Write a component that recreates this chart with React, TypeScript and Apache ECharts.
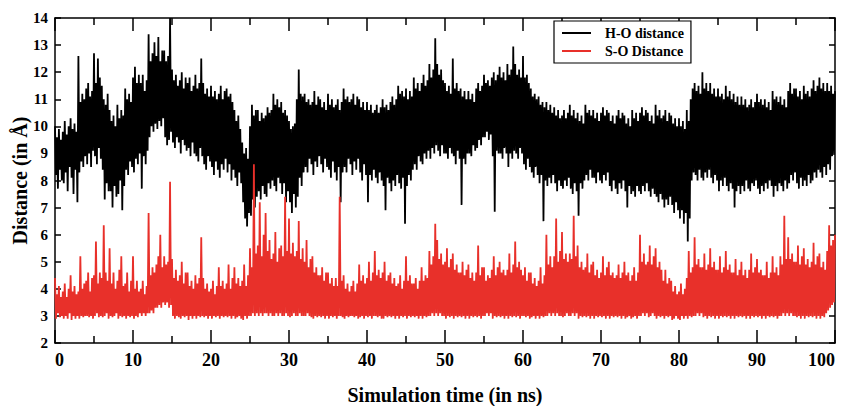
import React, { useEffect, useRef } from "react";
import * as echarts from "echarts";

// Sampling step of the trajectory (ns) and the axis ranges
const TIME_STEP = 0.125;
const X_MIN = 0;
const X_MAX = 100;
const X_INTERVAL = 10;
const Y_MIN = 2;
const Y_MAX = 14;
const Y_INTERVAL = 1;

const SERIES_NAMES = ["H-O distance", "S-O Distance"];

// H-O distance (Å), one row per ns, 8 samples per row
const HO_DISTANCE = [
  10.0, 8.2, 9.6, 7.7, 9.9, 8.4, 9.5, 8.0, // 0
  9.8, 7.9, 10.2, 8.3, 9.7, 7.6, 10.0, 8.5, // 1
  10.3, 8.1, 9.9, 7.5, 10.1, 8.4, 9.8, 7.2, // 2
  12.6, 8.3, 10.9, 8.7, 11.2, 8.5, 11.0, 8.9, // 3
  11.4, 8.6, 11.6, 9.0, 11.1, 8.5, 11.3, 9.1, // 4
  12.7, 8.9, 11.6, 8.6, 12.5, 9.2, 11.8, 8.8, // 5
  11.5, 8.4, 11.0, 7.3, 10.8, 7.9, 11.2, 7.6, // 6
  10.6, 7.6, 10.2, 7.0, 10.4, 7.8, 10.0, 7.4, // 7
  10.8, 7.5, 10.3, 8.0, 10.6, 6.9, 10.4, 7.8, // 8
  11.4, 8.4, 11.0, 8.2, 11.2, 8.7, 10.9, 8.5, // 9
  11.8, 8.3, 12.2, 8.8, 11.6, 8.6, 11.9, 9.0, // 10
  11.6, 7.7, 11.9, 8.9, 11.3, 8.6, 11.7, 9.1, // 11
  13.4, 9.6, 12.4, 10.0, 12.7, 9.8, 13.1, 10.1, // 12
  12.6, 9.9, 13.3, 10.2, 12.4, 10.0, 12.8, 10.3, // 13
  12.8, 9.6, 12.4, 9.3, 12.6, 9.5, 14.0, 9.8, // 14
  12.1, 9.4, 11.7, 9.2, 11.9, 9.6, 11.5, 9.4, // 15
  11.7, 9.0, 12.0, 9.5, 11.4, 9.3, 11.8, 9.1, // 16
  11.6, 9.2, 11.8, 8.9, 11.3, 9.4, 11.5, 9.0, // 17
  11.9, 8.9, 11.4, 8.7, 11.6, 9.2, 12.5, 8.9, // 18
  11.6, 8.6, 11.2, 8.4, 11.4, 8.9, 11.1, 8.7, // 19
  11.5, 8.5, 11.1, 8.2, 11.3, 8.7, 11.0, 8.4, // 20
  11.2, 8.1, 11.5, 8.6, 11.0, 8.4, 11.3, 8.8, // 21
  11.4, 8.3, 11.1, 8.6, 11.2, 8.0, 10.9, 8.4, // 22
  10.6, 8.1, 10.2, 7.8, 10.4, 8.3, 9.9, 7.9, // 23
  9.4, 7.2, 9.0, 6.6, 9.2, 6.3, 8.8, 6.8, // 24
  10.0, 6.7, 10.8, 7.3, 10.4, 7.0, 10.6, 7.4, // 25
  10.6, 7.6, 10.2, 7.3, 10.5, 7.8, 10.3, 7.5, // 26
  10.4, 7.4, 10.7, 7.9, 10.5, 7.7, 10.6, 8.0, // 27
  11.2, 7.8, 10.8, 7.6, 11.0, 8.1, 10.7, 7.9, // 28
  10.9, 7.5, 10.5, 7.9, 10.6, 7.2, 10.4, 7.6, // 29
  10.2, 7.2, 9.9, 6.8, 10.0, 7.5, 10.1, 7.0, // 30
  11.0, 7.4, 12.1, 8.1, 11.2, 7.8, 11.1, 8.3, // 31
  11.2, 8.5, 10.9, 8.3, 11.0, 8.8, 10.8, 8.6, // 32
  10.9, 8.2, 11.3, 8.7, 10.8, 8.5, 11.1, 8.9, // 33
  11.0, 8.6, 10.7, 8.3, 10.9, 8.8, 10.6, 8.5, // 34
  11.2, 8.4, 10.8, 8.1, 11.0, 8.7, 10.7, 8.3, // 35
  10.8, 8.0, 11.0, 8.5, 10.6, 7.2, 10.9, 8.3, // 36
  11.4, 8.5, 11.0, 8.3, 11.1, 8.8, 10.9, 8.6, // 37
  11.0, 8.2, 11.2, 8.7, 10.8, 8.4, 11.1, 8.8, // 38
  11.0, 8.3, 10.7, 8.0, 10.9, 8.6, 10.6, 8.2, // 39
  10.9, 7.2, 10.6, 8.2, 10.8, 8.0, 10.5, 8.4, // 40
  10.6, 8.1, 10.8, 7.9, 10.5, 8.3, 10.7, 8.0, // 41
  11.0, 7.8, 10.7, 6.9, 10.8, 8.1, 10.6, 7.9, // 42
  10.9, 7.6, 11.1, 8.0, 10.8, 7.8, 11.0, 8.2, // 43
  11.5, 7.9, 11.2, 7.7, 11.3, 8.1, 11.1, 6.4, // 44
  11.4, 7.8, 11.0, 8.2, 11.3, 8.0, 11.1, 8.4, // 45
  11.8, 8.6, 11.4, 8.4, 11.6, 8.9, 11.3, 8.7, // 46
  11.6, 8.6, 11.9, 9.0, 11.5, 8.8, 11.7, 9.1, // 47
  12.3, 8.8, 11.8, 9.2, 12.1, 9.0, 13.25, 9.3, // 48
  12.3, 9.1, 11.9, 8.9, 12.1, 9.3, 11.7, 9.0, // 49
  11.6, 9.0, 11.3, 8.8, 11.5, 9.2, 11.2, 9.0, // 50
  12.5, 8.9, 11.4, 8.6, 11.6, 9.1, 11.3, 8.8, // 51
  11.4, 7.1, 11.1, 8.8, 11.3, 8.6, 11.0, 9.0, // 52
  11.3, 9.0, 11.0, 8.9, 11.2, 9.3, 10.9, 9.1, // 53
  11.4, 9.2, 11.6, 9.5, 11.3, 9.3, 11.5, 9.6, // 54
  11.9, 9.6, 11.6, 9.8, 11.7, 9.5, 11.5, 9.7, // 55
  11.8, 8.9, 12.0, 6.85, 11.7, 9.1, 11.9, 9.0, // 56
  12.2, 9.0, 11.8, 8.8, 12.0, 9.2, 11.7, 9.0, // 57
  12.3, 8.5, 11.9, 9.0, 12.1, 8.8, 12.95, 9.1, // 58
  12.3, 9.0, 11.9, 8.8, 12.1, 9.2, 11.8, 9.0, // 59
  12.6, 8.6, 11.8, 8.4, 11.9, 8.8, 11.6, 8.5, // 60
  11.4, 8.3, 11.1, 8.1, 11.2, 8.5, 11.0, 8.2, // 61
  11.1, 7.9, 10.8, 8.2, 10.9, 6.5, 10.7, 8.0, // 62
  10.9, 7.8, 10.6, 8.1, 10.8, 7.9, 10.5, 8.2, // 63
  10.7, 7.9, 10.4, 7.6, 10.6, 8.0, 10.3, 7.8, // 64
  10.4, 7.7, 10.6, 8.0, 10.3, 7.8, 10.5, 8.1, // 65
  10.8, 7.7, 10.4, 7.5, 10.6, 7.9, 10.3, 7.6, // 66
  10.5, 6.7, 10.2, 7.9, 10.4, 7.7, 10.1, 8.0, // 67
  10.8, 8.2, 10.5, 8.0, 10.6, 8.4, 10.4, 8.1, // 68
  10.6, 8.1, 10.3, 7.9, 10.5, 8.3, 10.2, 8.0, // 69
  10.5, 7.9, 10.7, 8.2, 10.4, 8.0, 10.6, 8.3, // 70
  10.5, 7.8, 10.2, 7.6, 10.4, 8.0, 10.1, 7.7, // 71
  10.4, 7.5, 10.6, 7.9, 10.3, 7.7, 10.5, 8.0, // 72
  10.4, 7.6, 10.1, 7.0, 10.3, 7.8, 10.0, 7.5, // 73
  10.6, 7.6, 10.3, 7.4, 10.5, 7.8, 10.2, 7.6, // 74
  10.5, 7.5, 10.7, 7.8, 10.4, 7.6, 10.6, 7.9, // 75
  10.5, 7.6, 10.2, 7.4, 10.4, 7.7, 10.1, 7.5, // 76
  10.8, 7.4, 10.4, 7.2, 10.6, 7.5, 10.3, 7.3, // 77
  10.4, 7.0, 10.6, 7.3, 10.2, 7.1, 10.5, 7.4, // 78
  10.4, 7.1, 10.1, 6.8, 10.3, 7.2, 10.0, 6.9, // 79
  10.3, 6.6, 10.0, 6.9, 10.2, 6.4, 9.9, 6.8, // 80
  10.6, 5.75, 10.2, 6.6, 11.0, 8.0, 11.4, 8.3, // 81
  11.6, 8.2, 11.3, 8.0, 11.5, 8.4, 11.2, 8.1, // 82
  12.0, 8.0, 11.4, 8.3, 11.6, 8.1, 11.3, 8.4, // 83
  11.6, 8.1, 11.2, 7.9, 11.4, 8.2, 11.1, 8.0, // 84
  11.4, 7.6, 11.1, 8.0, 11.2, 7.8, 11.0, 8.1, // 85
  11.5, 7.8, 11.1, 7.6, 11.3, 7.9, 11.0, 7.7, // 86
  11.2, 7.0, 10.9, 7.6, 11.1, 7.8, 10.8, 7.5, // 87
  11.1, 7.8, 10.8, 7.6, 11.0, 8.0, 10.7, 7.7, // 88
  10.8, 7.6, 11.0, 7.9, 10.7, 7.8, 10.9, 8.0, // 89
  11.2, 7.7, 10.9, 7.5, 11.0, 7.8, 10.8, 7.6, // 90
  11.0, 7.9, 10.7, 7.7, 10.9, 8.0, 10.6, 7.8, // 91
  11.3, 7.4, 11.0, 7.8, 11.1, 7.6, 10.9, 7.9, // 92
  11.1, 7.8, 10.8, 7.6, 11.0, 8.0, 10.7, 7.7, // 93
  11.3, 7.9, 11.6, 8.2, 11.2, 8.0, 11.4, 8.3, // 94
  11.4, 7.9, 11.1, 7.7, 11.3, 8.1, 11.0, 7.8, // 95
  11.5, 8.0, 11.2, 7.8, 11.3, 8.2, 11.1, 7.9, // 96
  11.4, 8.0, 11.7, 8.3, 11.3, 8.1, 11.5, 8.4, // 97
  11.8, 8.3, 11.4, 8.1, 11.6, 8.5, 11.3, 8.2, // 98
  11.6, 8.6, 11.3, 8.4, 11.5, 8.9, 11.2, 9.0, // 99
  11.3, // 100
];

// S-O distance (Å), one row per ns, 8 samples per row
const SO_DISTANCE = [
  4.4, 2.9, 3.8, 3.1, 4.1, 2.95, 3.7, 3.0, // 0
  3.9, 2.9, 4.2, 3.0, 3.7, 2.9, 4.0, 3.1, // 1
  4.5, 2.85, 3.9, 3.0, 4.1, 2.9, 3.8, 3.0, // 2
  3.9, 2.9, 5.2, 3.0, 4.0, 2.95, 4.2, 3.0, // 3
  4.3, 3.0, 4.6, 2.95, 3.9, 3.0, 4.4, 2.9, // 4
  4.5, 3.0, 5.75, 3.1, 4.2, 2.95, 4.6, 3.0, // 5
  4.4, 2.95, 6.35, 3.0, 4.6, 3.1, 4.3, 2.9, // 6
  5.5, 3.0, 4.2, 2.95, 4.6, 3.0, 4.0, 3.1, // 7
  4.3, 2.9, 4.7, 3.0, 5.2, 2.95, 4.1, 3.0, // 8
  4.2, 2.9, 4.6, 3.0, 3.9, 2.95, 4.3, 3.0, // 9
  5.2, 2.9, 4.0, 3.0, 4.3, 2.95, 3.9, 3.1, // 10
  4.0, 3.0, 4.3, 3.1, 3.8, 3.0, 4.1, 3.1, // 11
  6.8, 3.1, 4.5, 3.2, 4.8, 3.1, 4.6, 3.3, // 12
  4.9, 3.3, 5.2, 3.4, 6.0, 3.3, 4.8, 3.5, // 13
  5.2, 3.4, 4.9, 3.5, 5.0, 3.3, 7.95, 3.4, // 14
  5.1, 3.0, 4.4, 2.9, 4.7, 3.0, 4.3, 2.95, // 15
  4.5, 2.9, 5.0, 3.0, 4.2, 2.95, 4.6, 3.0, // 16
  4.6, 2.85, 4.1, 3.0, 4.3, 2.9, 4.0, 3.0, // 17
  4.5, 2.9, 4.2, 3.0, 4.4, 2.95, 5.9, 3.0, // 18
  4.4, 2.95, 4.0, 3.0, 4.2, 2.9, 3.9, 3.0, // 19
  4.0, 2.9, 4.3, 3.0, 3.8, 2.95, 4.1, 3.0, // 20
  4.8, 2.9, 4.1, 3.0, 4.3, 2.95, 4.0, 3.0, // 21
  4.2, 2.95, 4.9, 3.0, 4.0, 2.9, 4.4, 3.0, // 22
  4.8, 2.9, 4.2, 2.95, 4.4, 3.0, 4.1, 2.9, // 23
  4.3, 2.85, 4.9, 3.0, 4.1, 2.9, 4.5, 3.0, // 24
  5.5, 3.0, 4.8, 3.1, 8.6, 3.0, 5.3, 3.1, // 25
  5.6, 3.0, 7.2, 3.1, 5.2, 3.0, 6.0, 3.1, // 26
  6.8, 3.1, 5.4, 3.0, 5.8, 3.1, 5.1, 3.0, // 27
  5.3, 3.0, 6.1, 3.1, 5.0, 3.0, 5.5, 3.1, // 28
  5.6, 3.0, 5.2, 3.0, 7.4, 3.1, 5.4, 3.0, // 29
  6.6, 2.95, 5.3, 3.0, 5.7, 3.1, 5.2, 3.0, // 30
  5.4, 3.0, 6.5, 3.1, 5.1, 3.0, 5.5, 3.0, // 31
  5.0, 3.0, 5.8, 3.1, 4.8, 3.0, 5.1, 2.95, // 32
  5.2, 2.9, 4.6, 3.0, 4.8, 2.95, 4.5, 3.0, // 33
  4.5, 2.95, 4.8, 3.0, 4.3, 2.9, 4.6, 3.0, // 34
  4.6, 2.9, 4.2, 3.0, 4.4, 2.95, 4.1, 3.0, // 35
  4.4, 2.9, 4.1, 3.0, 7.4, 3.0, 4.3, 2.95, // 36
  4.5, 2.9, 4.0, 3.0, 4.2, 2.95, 3.9, 3.0, // 37
  4.1, 3.0, 4.3, 2.95, 3.9, 3.0, 4.2, 2.9, // 38
  4.9, 2.95, 4.3, 3.0, 4.5, 2.9, 4.2, 3.0, // 39
  4.4, 2.95, 5.0, 3.0, 4.3, 2.9, 4.6, 3.0, // 40
  5.4, 3.0, 4.5, 2.95, 4.7, 3.0, 4.4, 2.9, // 41
  4.6, 2.9, 5.0, 3.0, 4.3, 2.95, 4.5, 3.0, // 42
  4.6, 2.95, 4.2, 3.0, 4.4, 2.9, 4.1, 3.0, // 43
  4.2, 2.9, 4.5, 3.0, 4.0, 2.95, 4.3, 3.0, // 44
  5.2, 2.9, 4.3, 3.0, 4.5, 2.95, 4.2, 3.0, // 45
  4.2, 2.95, 4.4, 3.0, 4.0, 2.9, 4.3, 3.0, // 46
  4.8, 2.9, 4.3, 3.0, 4.5, 2.95, 4.4, 3.0, // 47
  5.4, 3.0, 4.9, 3.1, 5.2, 3.0, 6.4, 3.1, // 48
  5.8, 3.0, 5.1, 3.1, 5.3, 3.0, 4.9, 3.0, // 49
  5.0, 2.9, 5.5, 3.0, 4.8, 2.95, 5.1, 3.0, // 50
  5.3, 2.9, 4.7, 3.0, 4.9, 2.95, 4.6, 3.0, // 51
  4.6, 2.95, 5.0, 3.0, 4.5, 2.9, 4.7, 3.0, // 52
  4.9, 2.9, 4.4, 3.0, 4.6, 2.95, 4.3, 3.0, // 53
  4.6, 2.95, 5.6, 3.0, 4.5, 2.9, 4.8, 3.0, // 54
  4.8, 3.0, 4.3, 3.1, 4.5, 3.0, 4.4, 3.1, // 55
  4.7, 2.9, 5.2, 3.0, 4.5, 2.95, 4.8, 3.0, // 56
  5.0, 2.95, 4.6, 3.0, 4.7, 2.9, 4.5, 3.0, // 57
  4.7, 2.9, 5.3, 3.0, 4.6, 2.95, 4.9, 3.0, // 58
  5.75, 2.95, 4.8, 3.0, 5.0, 2.9, 4.7, 3.0, // 59
  4.5, 3.0, 4.8, 2.95, 4.3, 3.0, 4.6, 2.9, // 60
  4.6, 2.95, 4.2, 3.0, 4.4, 2.9, 4.1, 3.0, // 61
  4.3, 2.9, 4.8, 3.0, 4.2, 2.95, 4.5, 3.0, // 62
  6.0, 3.0, 4.9, 3.1, 5.2, 3.0, 4.8, 3.1, // 63
  5.2, 3.0, 6.6, 3.1, 5.0, 3.0, 5.4, 3.0, // 64
  6.1, 2.95, 5.1, 3.0, 5.3, 3.1, 5.0, 3.0, // 65
  5.3, 3.0, 5.1, 3.1, 6.7, 3.0, 5.2, 3.1, // 66
  5.6, 2.9, 4.8, 3.0, 5.0, 2.95, 4.7, 3.0, // 67
  4.8, 2.95, 5.3, 3.0, 4.6, 2.9, 4.9, 3.0, // 68
  5.0, 2.9, 4.5, 3.0, 4.7, 2.95, 4.4, 3.0, // 69
  4.6, 2.95, 5.2, 3.0, 4.5, 2.9, 4.8, 3.0, // 70
  5.0, 2.9, 4.5, 3.0, 4.6, 2.95, 4.4, 3.0, // 71
  4.5, 2.95, 4.9, 3.0, 4.4, 2.9, 4.6, 3.0, // 72
  5.0, 2.9, 4.5, 2.95, 4.6, 3.0, 4.3, 2.9, // 73
  4.5, 2.95, 4.8, 3.0, 4.3, 2.9, 4.6, 3.0, // 74
  6.0, 3.0, 5.0, 3.1, 5.3, 3.0, 4.9, 3.1, // 75
  5.0, 2.95, 5.6, 3.0, 4.9, 3.1, 5.2, 3.0, // 76
  5.5, 2.9, 4.8, 3.0, 5.0, 2.95, 4.7, 3.0, // 77
  4.3, 2.9, 4.7, 3.0, 4.2, 2.95, 4.4, 3.0, // 78
  4.3, 2.85, 3.9, 2.9, 4.1, 3.0, 3.8, 2.9, // 79
  3.9, 2.85, 4.2, 3.0, 3.8, 2.9, 4.0, 3.0, // 80
  4.4, 2.9, 5.4, 3.0, 4.6, 2.95, 4.8, 3.0, // 81
  5.9, 3.0, 4.9, 3.1, 5.1, 3.0, 4.8, 3.1, // 82
  4.8, 2.95, 5.3, 3.0, 4.7, 2.9, 4.9, 3.0, // 83
  5.5, 2.95, 4.8, 3.0, 5.0, 2.9, 4.7, 3.0, // 84
  4.7, 2.9, 5.2, 3.0, 4.6, 2.95, 4.8, 3.0, // 85
  5.4, 2.95, 4.7, 3.0, 4.9, 2.9, 4.6, 3.0, // 86
  4.6, 2.9, 5.1, 3.0, 4.5, 2.95, 4.7, 3.0, // 87
  5.0, 2.95, 4.5, 3.0, 4.7, 2.9, 4.4, 3.0, // 88
  4.7, 2.9, 5.3, 3.0, 4.6, 2.95, 4.8, 3.0, // 89
  5.1, 2.95, 4.6, 3.0, 4.7, 2.9, 4.5, 3.0, // 90
  4.5, 2.9, 5.0, 3.0, 4.4, 2.95, 4.6, 3.0, // 91
  5.2, 2.95, 4.6, 3.0, 4.8, 2.9, 4.5, 3.0, // 92
  5.2, 3.0, 4.9, 3.1, 6.7, 3.0, 5.1, 3.1, // 93
  5.9, 3.0, 5.1, 3.1, 5.3, 3.0, 5.0, 3.0, // 94
  5.0, 2.95, 5.6, 3.0, 4.9, 2.9, 5.2, 3.0, // 95
  5.5, 2.9, 4.9, 3.0, 5.1, 2.95, 4.8, 3.0, // 96
  5.0, 2.95, 5.7, 3.0, 4.9, 2.9, 5.2, 3.0, // 97
  5.3, 2.9, 4.8, 3.0, 5.0, 2.95, 4.7, 3.1, // 98
  5.4, 3.2, 6.35, 3.3, 5.6, 3.4, 5.8, 3.5, // 99
  6.0, // 100
];

const FONT = '"Liberation Serif", "DejaVu Serif", "Times New Roman", serif';
const AXIS_COLOR = "#000";
const HO_COLOR = "#000000";
const SO_COLOR = "#e8302a";

const toPairs = (values: number[]) => values.map((v, i) => [i * TIME_STEP, v]);

export default function App() {
  const ref = useRef<HTMLDivElement>(null);

  useEffect(() => {
    if (!ref.current) return;
    const chart = echarts.init(ref.current, null, { renderer: "svg" });

    const lineStyle = { color: AXIS_COLOR, width: 1.5 };
    const baseX = {
      type: "value" as const,
      min: X_MIN,
      max: X_MAX,
      interval: X_INTERVAL,
      axisLine: { show: true, onZero: false, lineStyle },
      axisTick: { show: true, inside: true, length: 13, lineStyle },
      minorTick: { show: true, splitNumber: 2, length: 7, lineStyle },
      splitLine: { show: false },
      minorSplitLine: { show: false },
    };
    const baseY = {
      type: "value" as const,
      min: Y_MIN,
      max: Y_MAX,
      interval: Y_INTERVAL,
      axisLine: { show: true, onZero: false, lineStyle },
      axisTick: { show: true, inside: true, length: 6, lineStyle },
      splitLine: { show: false },
    };

    chart.setOption({
      animation: false,
      backgroundColor: "#fff",
      grid: {
        left: 55,
        right: 7,
        top: 18,
        bottom: 63,
        containLabel: false,
        outerBoundsMode: "none",
      },
      legend: {
        orient: "vertical",
        left: 554,
        top: 21,
        icon: "rect",
        itemWidth: 29,
        itemHeight: 2,
        itemGap: 4,
        padding: [5, 7, 5, 8],
        borderColor: "#000",
        borderWidth: 1.2,
        backgroundColor: "#fff",
        selectedMode: false,
        textStyle: {
          fontFamily: FONT,
          fontWeight: "bold",
          fontSize: 14,
          color: "#000",
          padding: [0, 0, 0, 9],
        },
        data: SERIES_NAMES,
      },
      xAxis: [
        {
          ...baseX,
          position: "bottom",
          axisLabel: {
            show: true,
            fontFamily: FONT,
            fontWeight: "bold",
            fontSize: 18,
            color: "#000",
            margin: 8,
            alignMinLabel: "left",
            alignMaxLabel: "right",
          },
          name: "Simulation time (in ns)",
          nameLocation: "middle",
          nameGap: 42,
          nameMoveOverlap: false,
          nameTextStyle: {
            fontFamily: FONT,
            fontWeight: "bold",
            fontSize: 20,
            color: "#000",
          },
        },
        {
          ...baseX,
          position: "top",
          axisLabel: { show: false },
        },
      ],
      yAxis: [
        {
          ...baseY,
          position: "left",
          axisLabel: {
            show: true,
            fontFamily: FONT,
            fontWeight: "bold",
            fontSize: 15,
            color: "#000",
            margin: 7,
          },
          name: "Distance (in Å)",
          nameLocation: "middle",
          nameGap: 25,
          nameMoveOverlap: false,
          nameTextStyle: {
            fontFamily: FONT,
            fontWeight: "bold",
            fontSize: 20,
            color: "#000",
          },
        },
        {
          ...baseY,
          position: "right",
          axisLabel: { show: false },
        },
      ],
      series: [
        {
          name: SERIES_NAMES[0],
          type: "line",
          xAxisIndex: 0,
          yAxisIndex: 0,
          data: toPairs(HO_DISTANCE),
          showSymbol: false,
          symbol: "none",
          color: HO_COLOR,
          lineStyle: { color: HO_COLOR, width: 1.8 },
          z: 2,
        },
        {
          name: SERIES_NAMES[1],
          type: "line",
          xAxisIndex: 0,
          yAxisIndex: 0,
          data: toPairs(SO_DISTANCE),
          showSymbol: false,
          symbol: "none",
          color: SO_COLOR,
          lineStyle: { color: SO_COLOR, width: 1.8 },
          z: 3,
        },
      ],
    });

    return () => chart.dispose();
  }, []);

  return (
    <div
      ref={ref}
      style={{ position: "fixed", left: 0, top: 0, width: 842, height: 406 }}
    />
  );
}
